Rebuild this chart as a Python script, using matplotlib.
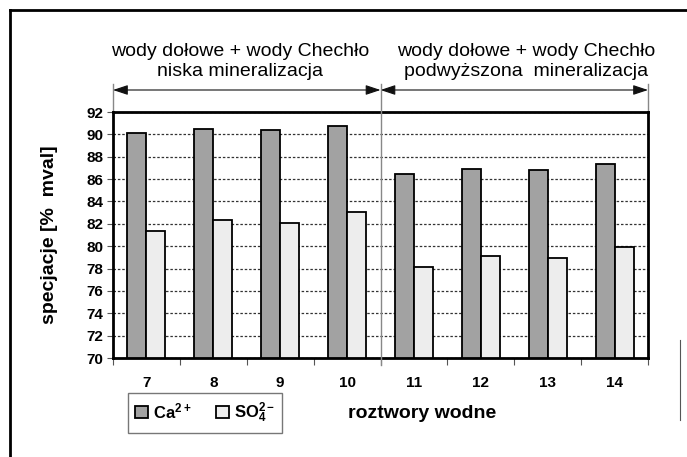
import matplotlib
matplotlib.use("Agg")
import matplotlib.pyplot as plt
import numpy as np
from matplotlib.lines import Line2D

plt.rcParams['font.family'] = ['Liberation Sans', 'DejaVu Sans']
plt.rcParams['mathtext.fontset'] = 'custom'
plt.rcParams['mathtext.rm'] = 'Liberation Sans'
plt.rcParams['mathtext.bf'] = 'Liberation Sans:bold'

categories = ['7', '8', '9', '10', '11', '12', '13', '14']
ca_values = [90.1, 90.45, 90.35, 90.75, 86.5, 86.9, 86.8, 87.35]
so4_values = [81.4, 82.35, 82.1, 83.05, 78.1, 79.1, 78.9, 79.9]
series_labels = [r'$\mathbf{Ca^{2+}}$', r'$\mathbf{SO_4^{2-}}$']
yticks = [70, 72, 74, 76, 78, 80, 82, 84, 86, 88, 90, 92]
group_titles = [("wody dołowe + wody Chechło", "niska mineralizacja"),
                ("wody dołowe + wody Chechło", "podwyższona  mineralizacja")]
xlabel = "roztwory wodne"
ylabel = "specjacje [%  mval]"

W, H = 687, 457
fig = plt.figure(figsize=(W / 100, H / 100), dpi=100)
ax = fig.add_axes([113 / W, 1 - 358 / H, (648 - 113) / W, (358 - 112) / H])

x = np.arange(len(categories))
bw = 0.285
ax.bar(x - bw / 2, np.array(ca_values) - 70, bw, bottom=70, color='#a2a2a2',
       edgecolor='black', linewidth=1.3, zorder=3, label=series_labels[0])
ax.bar(x + bw / 2, np.array(so4_values) - 70, bw, bottom=70, color='#ededed',
       edgecolor='black', linewidth=1.3, zorder=3, label=series_labels[1])

ax.set_xlim(-0.5, len(categories) - 0.5)
ax.set_ylim(70, 92)
ax.set_yticks(yticks)
ax.set_yticklabels([str(v) for v in yticks], fontsize=11, fontweight='bold')
ax.set_xticks(x)
ax.set_xticklabels(categories, fontsize=11, fontweight='bold')
ax.tick_params(axis='x', which='major', length=0, pad=13)
ax.set_xticks(np.arange(-0.5, len(categories), 1.0), minor=True)
ax.tick_params(axis='x', which='minor', length=5, width=0.8, color='#555555', direction='out')
ax.tick_params(axis='y', length=4, width=0.8, color='#555555', direction='out', pad=3)
ax.yaxis.grid(True, linestyle=(0, (2, 1.5)), color='#333333', linewidth=0.9, zorder=1)
for s in ax.spines.values():
    s.set_linewidth(2.0)
    s.set_color('black')

ax.set_ylabel(ylabel, fontsize=14, fontweight='bold', labelpad=20)
fig.text(422 / W, 1 - 413 / H, xlabel, fontsize=14, fontweight='bold', ha='center', va='center')

# divider and group annotations
trans = ax.get_xaxis_transform()
ax.plot([3.5, 3.5], [-0.03, 1.115], transform=trans, color='#888888', lw=1.0, clip_on=False, zorder=4)
for xv in (-0.5, 7.5):
    ax.plot([xv, xv], [1.0, 1.115], transform=trans, color='#888888', lw=1.0, clip_on=False)
yarr = (358 - 90) / 246
for (x0, x1) in ((-0.5, 3.5), (3.5, 7.5)):
    ax.annotate('', xy=(x1, yarr), xytext=(x0, yarr), xycoords=trans, textcoords=trans,
                arrowprops=dict(arrowstyle='<|-|>,head_length=0.9,head_width=0.3',
                                color='#111111', lw=0.8, shrinkA=0, shrinkB=0))
centers = [(240, ), (526, )]
for (l1, l2), (cx,) in zip(group_titles, centers):
    fig.text(cx / W, 1 - 51 / H, l1, fontsize=14, ha='center', va='center')
    fig.text(cx / W, 1 - 71 / H, l2, fontsize=14, ha='center', va='center')

# legend
leg = fig.legend(loc='center', bbox_to_anchor=(205 / W, 1 - 413 / H), ncol=2,
                 fontsize=12, frameon=True, fancybox=False, edgecolor='#555555',
                 handlelength=0.75, handleheight=0.75, handletextpad=0.3,
                 columnspacing=1.5, borderpad=0.45)
leg.get_frame().set_linewidth(1.0)

# outer frame
fig.add_artist(Line2D([10 / W, 10 / W], [0, 1 - 10 / H], color='black', lw=2.0))
fig.add_artist(Line2D([10 / W, 1], [1 - 10 / H, 1 - 10 / H], color='black', lw=2.0))
fig.add_artist(Line2D([680 / W, 680 / W], [1 - 420 / H, 1 - 340 / H], color='#555555', lw=0.8))

fig.savefig('out.png', dpi=100)
